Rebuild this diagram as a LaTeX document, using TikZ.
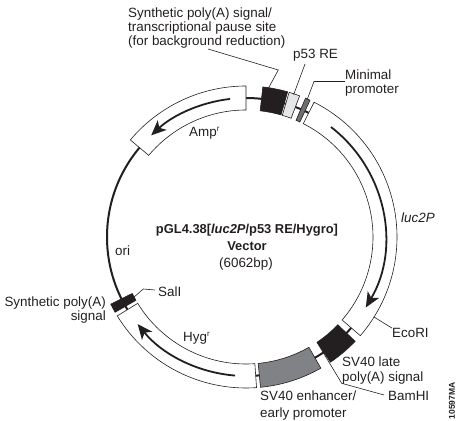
\documentclass[tikz,border=0pt]{standalone}
\usepackage{fontspec}
\setmainfont{Liberation Sans}
\usetikzlibrary{arrows.meta}
\definecolor{inkdark}{HTML}{231F20}
\definecolor{promgray}{HTML}{808285}
\definecolor{p53gray}{HTML}{E6E7E8}
\definecolor{mingray}{HTML}{6D6E71}
% one ring segment: fill, start angle, end angle
\newcommand{\ringseg}[3]{%
  \draw[segbox, fill=#1] (#2:151) arc[start angle=#2, end angle=#3, radius=151]
    -- (#3:127) arc[start angle=#3, end angle=#2, radius=127] -- cycle;}
\newcommand{\resmark}{\raisebox{4.5pt}{\fontsize{8}{8}\selectfont r}}
\begin{document}
\begin{tikzpicture}[
    x=1pt, y=1pt,
    segbox/.style={draw=inkdark, line width=0.6pt},
    backbone/.style={draw=inkdark, line width=2pt},
    dirarrow/.style={draw=inkdark, line width=1.8pt, -{Stealth[length=15pt, width=13pt, inset=4pt]}},
    leader/.style={draw=inkdark, line width=0.6pt},
    lbl/.style={inner sep=0pt, text=inkdark, align=left, font=\fontsize{13.4}{14.5}\selectfont},
    title/.style={inner sep=0pt, text=inkdark, align=center, font=\fontsize{12.9}{17}\selectfont\bfseries},
  ]
  \useasboundingbox (0,0) rectangle (462,420);

  \begin{scope}[shift={(246,183)}]
    \draw[backbone] (0,0) circle[radius=139];

    \ringseg{white}{90}{140}
    \ringseg{inkdark}{83.6}{74}
    \ringseg{p53gray}{73.4}{69.2}
    \ringseg{mingray}{66.8}{64.9}
    \ringseg{white}{63.2}{-40.8}
    \ringseg{inkdark}{-43.7}{-56}
    \ringseg{promgray}{-60.3}{-84.5}
    \ringseg{white}{-86}{-148.5}
    \ringseg{inkdark}{206.4}{209.9}

    \draw[dirarrow] (96.6:139) arc[start angle=96.6, end angle=133, radius=139];
    \draw[dirarrow] (52.3:139) arc[start angle=52.3, end angle=-30.5, radius=139];
    \draw[dirarrow] (265.5:139) arc[start angle=265.5, end angle=218.8, radius=139];

    \coordinate (termtop) at (81.5:150);
    \coordinate (p53top) at (71.5:150);
    \coordinate (mintop) at (66:150);
    \coordinate (ecoend) at (-32:151);
    \coordinate (bamend) at (-56:127);
    \coordinate (saltop) at (208.2:127);
  \end{scope}

  % labels, top
  \node[lbl, anchor=west] (term) at (128,392) {Synthetic poly(A) signal/\\[-0.5pt]transcriptional pause site\\[-0.5pt](for background reduction)};
  \node[lbl, anchor=west] (p53) at (293,365) {p53 RE};
  \node[lbl, anchor=west] (minprom) at (345,337) {Minimal\\[-0.5pt]promoter};
  \node[lbl, anchor=west] (amp) at (189,287) {Amp\resmark};
  \node[lbl, anchor=west] (luc) at (401,202) {\itshape luc2P};

  % centre
  \node[title] (vecname) at (247,182.5) {pGL4.38[\textit{luc2P}/p53 RE/Hygro]\\Vector};
  \node[lbl, anchor=center] (vecsize) at (246,156) {(6062bp)};

  % labels, bottom
  \node[lbl, anchor=west] (ori) at (115,169) {ori};
  \node[lbl, anchor=west] (sal) at (158,128) {SalI};
  \node[lbl, anchor=east, align=right] (synpa) at (106,110) {Synthetic poly(A)\\signal};
  \node[lbl, anchor=west] (hyg) at (183,82) {Hyg\resmark};
  \node[lbl, anchor=west] (eco) at (392,87) {EcoRI};
  \node[lbl, anchor=west] (latepa) at (342,49.5) {SV40 late\\poly(A) signal};
  \node[lbl, anchor=west] (bam) at (388,24) {BamHI};
  \node[lbl, anchor=west] (enh) at (260,14.5) {SV40 enhancer/\\[2.5pt]early promoter};
  \node[inner sep=0pt, text=inkdark, rotate=90, font=\fontsize{8.5}{9}\selectfont\bfseries] (fignum) at (452,19) {10597MA};

  % leader lines
  \coordinate (termstart) at (208,371);
  \coordinate (p53start) at (305,356);
  \draw[leader] (termstart) -- (278.3,350) -- (termtop);
  \draw[leader] (p53start) -- (p53top);
  \draw[leader] (minprom.west |- 0,338.5) -- (314,338.5) -- (mintop);
  \draw[leader] (sal.west) ++(-3,2) -- (143.3,131) -- (saltop);
  \draw[leader] (eco.north west) -- (ecoend);
  \draw[leader] (bam.west) ++(-4,1) -- (341.7,36.7) -- (bamend);
\end{tikzpicture}
\end{document}
